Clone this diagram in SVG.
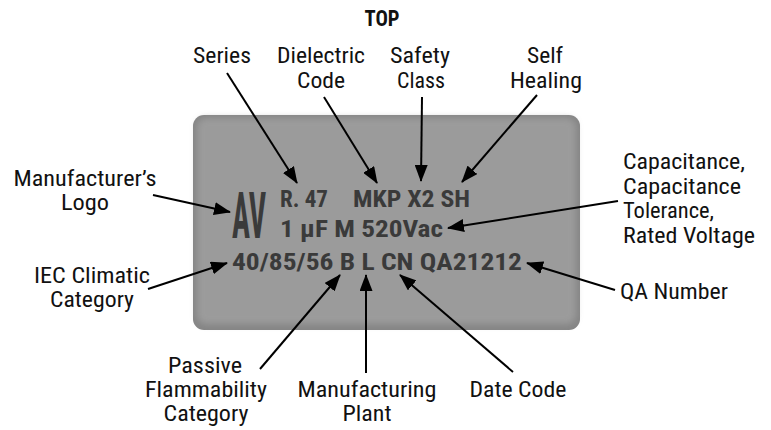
<svg xmlns="http://www.w3.org/2000/svg" width="771" height="430" viewBox="0 0 771 430">
<style>
.lbl{font-family:"Roboto Condensed","Liberation Sans Narrow",Roboto,"Liberation Sans",sans-serif;font-size:21.5px;fill:#111}
.mid{text-anchor:middle}
.ttl{font-family:"Roboto Condensed",Roboto,"Liberation Sans",sans-serif;font-size:22px;font-weight:bold;fill:#111;text-anchor:middle}
.mark{font-family:"Roboto Condensed",Roboto,"Liberation Sans",sans-serif;font-size:24px;font-weight:bold;fill:#3a3a3a}
.logo{font-family:"Roboto Condensed",Roboto,"Liberation Sans",sans-serif;font-size:64px;font-weight:bold;fill:#3a3a3a}
.arr{stroke:#000;stroke-width:2;fill:none;marker-end:url(#ah)}
</style>
<defs>
<marker id="ah" markerUnits="userSpaceOnUse" markerWidth="17" markerHeight="13" refX="16" refY="6.5" orient="auto">
<path d="M0,0 L17,6.5 L0,13 z" fill="#000"/>
</marker>
<filter id="soft" x="-10%" y="-10%" width="120%" height="120%">
<feGaussianBlur stdDeviation="3"/>
</filter>
</defs>
<rect width="771" height="430" fill="#fff"/>
<g id="board">
<rect x="193" y="115" width="387" height="215" rx="11" fill="#858585"/>
<rect x="197" y="118" width="379" height="206" rx="9" fill="#9b9b9b" filter="url(#soft)"/>
</g>
<g id="marking">
<text class="logo" transform="translate(232,238) scale(0.47,1)" x="0" y="0">AV</text>
<text class="mark" x="280" y="207" textLength="48" lengthAdjust="spacingAndGlyphs">R. 47</text>
<text class="mark" x="353" y="207" textLength="117" lengthAdjust="spacingAndGlyphs">MKP X2 SH</text>
<text class="mark" x="280" y="237" textLength="163" lengthAdjust="spacingAndGlyphs">1 μF M 520Vac</text>
<text class="mark" x="232" y="270" textLength="290" lengthAdjust="spacingAndGlyphs">40/85/56 B L CN QA21212</text>
</g>
<text class="ttl" x="382" y="26" textLength="35" lengthAdjust="spacingAndGlyphs">TOP</text>
<g id="series"><text class="lbl mid" x="222" y="63" textLength="58" lengthAdjust="spacingAndGlyphs">Series</text></g>
<g id="dielectric"><text class="lbl mid" x="321" y="63" textLength="88" lengthAdjust="spacingAndGlyphs">Dielectric</text><text class="lbl mid" x="321" y="88" textLength="48" lengthAdjust="spacingAndGlyphs">Code</text></g>
<g id="safety"><text class="lbl mid" x="420" y="63" textLength="60" lengthAdjust="spacingAndGlyphs">Safety</text><text class="lbl mid" x="421" y="88" textLength="48" lengthAdjust="spacingAndGlyphs">Class</text></g>
<g id="selfhealing"><text class="lbl mid" x="545" y="63" textLength="36" lengthAdjust="spacingAndGlyphs">Self</text><text class="lbl mid" x="546" y="88" textLength="72" lengthAdjust="spacingAndGlyphs">Healing</text></g>
<g id="logo-label"><text class="lbl mid" x="85" y="186" textLength="143" lengthAdjust="spacingAndGlyphs">Manufacturer’s</text><text class="lbl mid" x="85" y="210" textLength="48" lengthAdjust="spacingAndGlyphs">Logo</text></g>
<g id="iec"><text class="lbl mid" x="92" y="283" textLength="116" lengthAdjust="spacingAndGlyphs">IEC Climatic</text><text class="lbl mid" x="92" y="307" textLength="84" lengthAdjust="spacingAndGlyphs">Category</text></g>
<g id="capacitance"><text class="lbl" x="623" y="169" textLength="122" lengthAdjust="spacingAndGlyphs">Capacitance,</text><text class="lbl" x="623" y="194" textLength="118" lengthAdjust="spacingAndGlyphs">Capacitance</text><text class="lbl" x="623" y="218" textLength="91" lengthAdjust="spacingAndGlyphs">Tolerance,</text><text class="lbl" x="623" y="243" textLength="132" lengthAdjust="spacingAndGlyphs">Rated Voltage</text></g>
<g id="qa"><text class="lbl" x="620" y="299" textLength="108" lengthAdjust="spacingAndGlyphs">QA Number</text></g>
<g id="passive"><text class="lbl mid" x="205" y="373" textLength="74" lengthAdjust="spacingAndGlyphs">Passive</text><text class="lbl mid" x="206" y="397" textLength="122" lengthAdjust="spacingAndGlyphs">Flammability</text><text class="lbl mid" x="206" y="421" textLength="85" lengthAdjust="spacingAndGlyphs">Category</text></g>
<g id="plant"><text class="lbl mid" x="367" y="397" textLength="139" lengthAdjust="spacingAndGlyphs">Manufacturing</text><text class="lbl mid" x="367" y="421" textLength="49" lengthAdjust="spacingAndGlyphs">Plant</text></g>
<g id="datecode"><text class="lbl mid" x="518" y="397" textLength="97" lengthAdjust="spacingAndGlyphs">Date Code</text></g>
<g id="connectors">
<line class="arr" x1="227" y1="73" x2="297" y2="183"/>
<line class="arr" x1="324" y1="97" x2="377" y2="183"/>
<line class="arr" x1="422" y1="97" x2="421" y2="181"/>
<line class="arr" x1="537" y1="95" x2="462" y2="182"/>
<line class="arr" x1="153" y1="195" x2="230" y2="212"/>
<line class="arr" x1="618" y1="201" x2="448" y2="228"/>
<line class="arr" x1="148" y1="289" x2="227" y2="263"/>
<line class="arr" x1="615" y1="290" x2="527" y2="263"/>
<line class="arr" x1="260" y1="369" x2="340" y2="275"/>
<line class="arr" x1="366" y1="373" x2="366" y2="275"/>
<line class="arr" x1="513" y1="372" x2="400" y2="275"/>
</g>
</svg>
